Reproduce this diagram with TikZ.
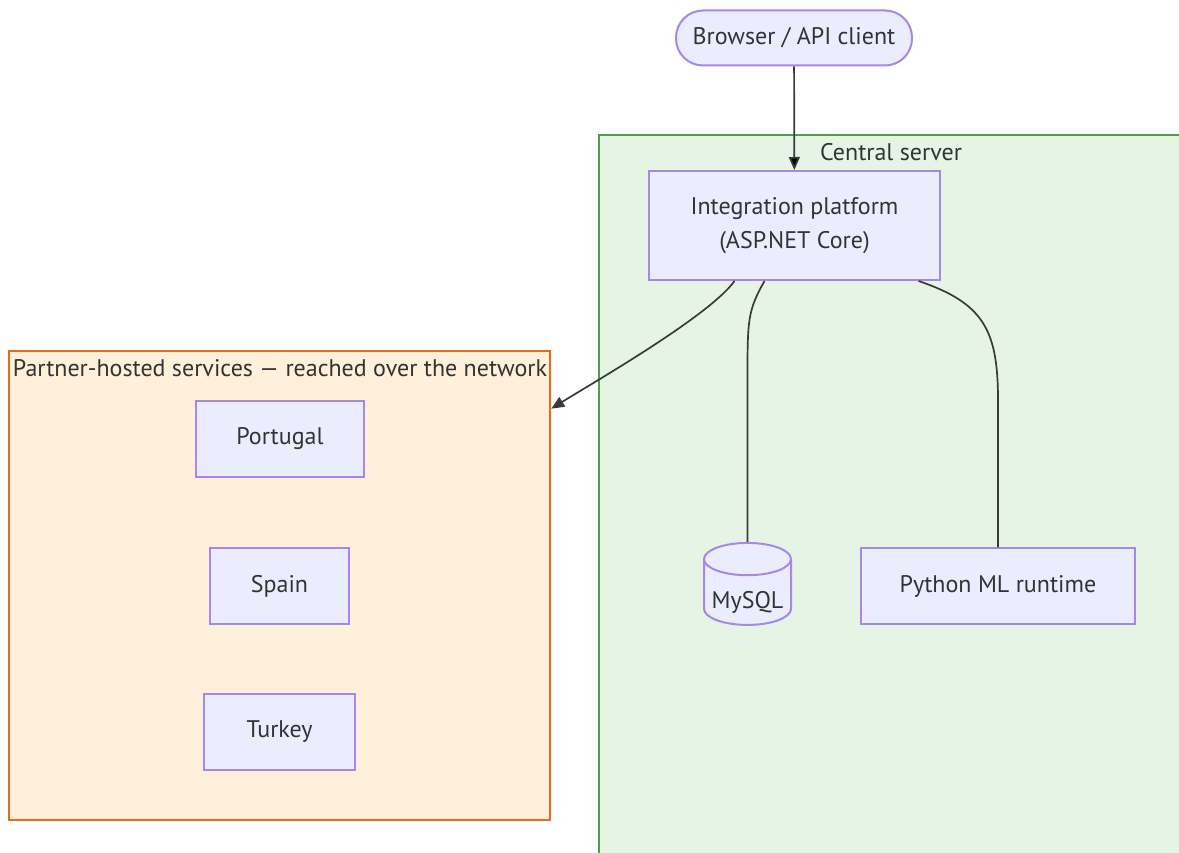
\documentclass[tikz,border=0pt]{standalone}
\usepackage{fontspec}
\setmainfont{PT Sans}
\usetikzlibrary{positioning, arrows.meta, shapes.geometric}

\definecolor{nodefill}{HTML}{ECECFF}
\definecolor{nodeline}{HTML}{A688E6}
\definecolor{greenfill}{HTML}{E6F4E6}
\definecolor{greenline}{HTML}{4E9E4E}
\definecolor{orangefill}{HTML}{FFF0DC}
\definecolor{orangeline}{HTML}{E8691F}
\definecolor{textgrey}{HTML}{333333}
\definecolor{edgegrey}{HTML}{3A3A3A}

\begin{document}
\begin{tikzpicture}[x=1pt, y=-1pt, >={Triangle[length=13pt, width=11pt]},
	every node/.style={font=\fontsize{24}{29}\selectfont, text=textgrey},
	box/.style={draw=nodeline, fill=nodefill, line width=2pt, inner sep=0pt, align=center},
	cluster/.style={draw, line width=2.6pt, inner sep=0pt},
	link/.style={draw=edgegrey, line width=1.7pt}]

	\clip (0,0) rectangle (1179,853);
	\fill[white] (0,0) rectangle (1179,853);

		% the two groups
		\node (central) [cluster, draw=greenline, fill=greenfill, minimum width=620pt, minimum height=740pt] at (909,505) {};
		\node (partner) [cluster, draw=orangeline, fill=orangefill, minimum width=541pt, minimum height=469pt] at (279.5,585.5) {};
		\node (centrallabel) at (891,152) {Central server};
		\node (partnerlabel) at (280,368) {Partner-hosted services — reached over the network};

		\node (client) [box, rounded corners=27pt, minimum width=236pt, minimum height=55pt] at (794,38) {Browser / API client};
		\node (platform) [box, minimum width=291pt, minimum height=109pt] at (794.5,225.5) {Integration platform\\[5pt](ASP.NET Core)};
		\node (mysql) [box, cylinder, shape border rotate=90, aspect=0.45, minimum width=87pt, minimum height=82pt,
			text height=32pt, text depth=0pt] at (747.5,592.5) {MySQL};
		\node (python) [box, minimum width=274pt, minimum height=76pt] at (998,586) {Python ML runtime};

		\node (portugal) [box, minimum width=168pt, minimum height=76pt] at (280,439) {Portugal};
		\node (spain) [box, minimum width=139pt, minimum height=76pt] at (279.5,586) {Spain};
		\node (turkey) [box, minimum width=151pt, minimum height=76pt] at (279.5,732) {Turkey};

			\path[link, ->]
				(client) edge (platform);
			\draw[link, ->] ([xshift=-60pt]platform.south) .. controls +(-25,35) and +(40,-25) .. ([yshift=-59pt]partner.north east);
			\draw[link] ([xshift=-30pt]platform.south) .. controls +(-17,30) and +(0,-60) .. (747.5,380) -- (mysql.north);
			\draw[link] ([xshift=124pt]platform.south) .. controls +(65,22) and +(0,-70) .. (998,400) -- (python.north);

\end{tikzpicture}
\end{document}
